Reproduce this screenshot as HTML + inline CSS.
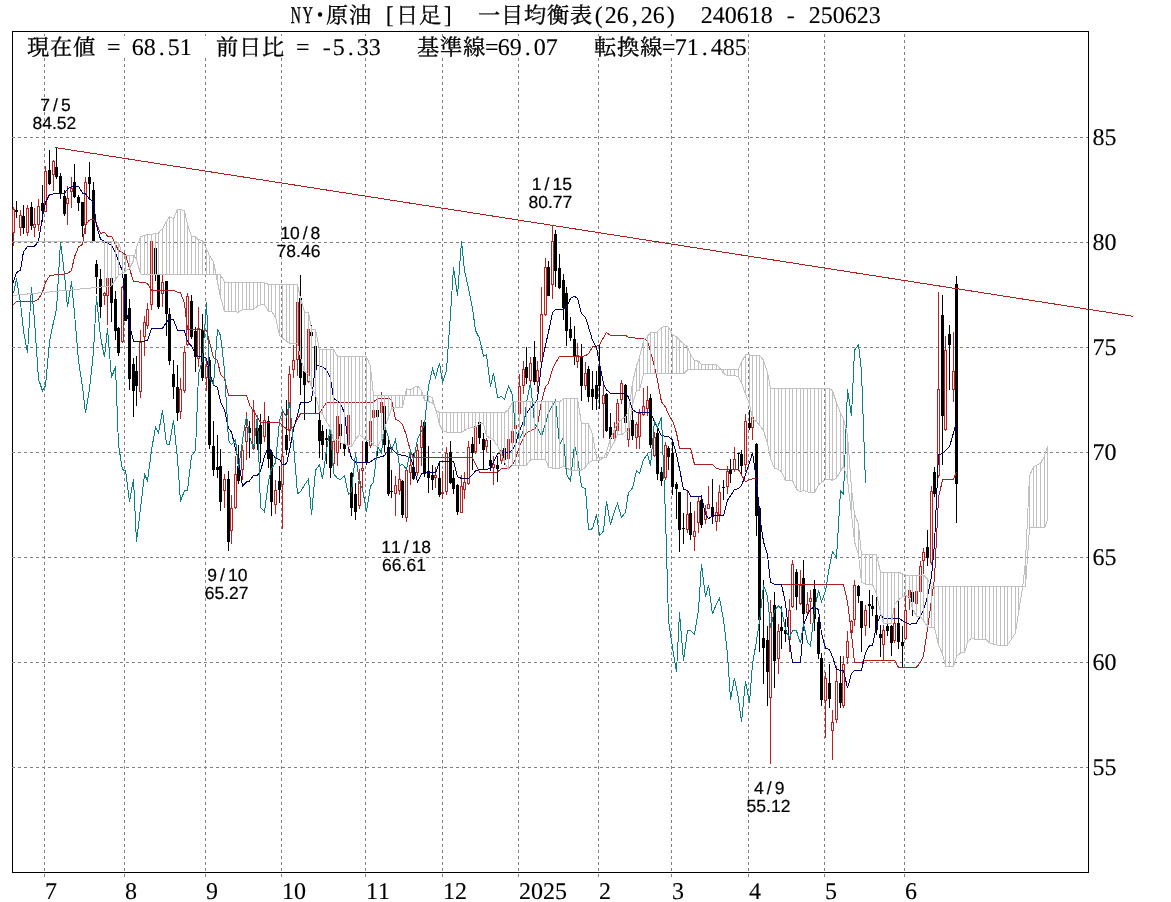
<!DOCTYPE html>
<html lang="ja">
<head>
<meta charset="utf-8">
<title>NY･原油 [日足] 一目均衡表(26,26)</title>
<style>
html,body{margin:0;padding:0;background:#fff;}
body{width:1171px;height:902px;overflow:hidden;}
svg{display:block;}
text{font-kerning:none;}
.m{font-family:"Liberation Serif","Noto Serif CJK SC",serif;}
.s{font-family:"Liberation Sans","Noto Sans CJK JP",sans-serif;}
</style>
</head>
<body>
<svg width="1171" height="902" viewBox="0 0 1171 902" shape-rendering="crispEdges">
<rect x="0" y="0" width="1171" height="902" fill="#fff"/>
<rect x="12.5" y="31.5" width="1076" height="841" fill="none" stroke="#000" stroke-width="1"/>
<g stroke="#808080" stroke-width="1" stroke-dasharray="3 3" fill="none">
<line x1="44.5" y1="34" x2="44.5" y2="877"/>
<line x1="124.5" y1="34" x2="124.5" y2="877"/>
<line x1="205.5" y1="34" x2="205.5" y2="877"/>
<line x1="281.5" y1="34" x2="281.5" y2="877"/>
<line x1="365.5" y1="34" x2="365.5" y2="877"/>
<line x1="442.5" y1="34" x2="442.5" y2="877"/>
<line x1="518.5" y1="34" x2="518.5" y2="877"/>
<line x1="598.5" y1="34" x2="598.5" y2="877"/>
<line x1="671.5" y1="34" x2="671.5" y2="877"/>
<line x1="748.5" y1="34" x2="748.5" y2="877"/>
<line x1="824.5" y1="34" x2="824.5" y2="877"/>
<line x1="904.5" y1="34" x2="904.5" y2="877"/>
<line x1="12" y1="137.5" x2="1088" y2="137.5"/>
<line x1="12" y1="242.5" x2="1088" y2="242.5"/>
<line x1="12" y1="347.5" x2="1088" y2="347.5"/>
<line x1="12" y1="452.5" x2="1088" y2="452.5"/>
<line x1="12" y1="557.5" x2="1088" y2="557.5"/>
<line x1="12" y1="662.5" x2="1088" y2="662.5"/>
<line x1="12" y1="767.5" x2="1088" y2="767.5"/>
</g>
<g>
<rect x="13" y="207" width="1" height="39" fill="#c02020"/>
<rect x="12.5" y="209.5" width="2" height="23" fill="#fff" stroke="#c02020" stroke-width="1"/>
<rect x="16" y="201" width="1" height="17" fill="#000"/>
<rect x="15" y="210" width="3" height="2" fill="#000"/>
<rect x="20" y="210" width="1" height="26" fill="#c02020"/>
<rect x="19.5" y="215.5" width="2" height="12" fill="#fff" stroke="#c02020" stroke-width="1"/>
<rect x="23" y="205" width="1" height="29" fill="#000"/>
<rect x="22" y="216" width="3" height="12" fill="#000"/>
<rect x="27" y="205" width="1" height="31" fill="#c02020"/>
<rect x="26.5" y="208.5" width="2" height="24" fill="#fff" stroke="#c02020" stroke-width="1"/>
<rect x="31" y="202" width="1" height="28" fill="#000"/>
<rect x="30" y="207" width="3" height="19" fill="#000"/>
<rect x="34" y="208" width="1" height="29" fill="#c02020"/>
<rect x="33.5" y="224.5" width="2" height="3" fill="#fff" stroke="#c02020" stroke-width="1"/>
<rect x="38" y="199" width="1" height="32" fill="#c02020"/>
<rect x="37.5" y="206.5" width="2" height="18" fill="#fff" stroke="#c02020" stroke-width="1"/>
<rect x="42" y="185" width="1" height="37" fill="#000"/>
<rect x="41" y="203" width="3" height="8" fill="#000"/>
<rect x="45" y="166" width="1" height="46" fill="#c02020"/>
<rect x="44.5" y="171.5" width="2" height="40" fill="#fff" stroke="#c02020" stroke-width="1"/>
<rect x="49" y="150" width="1" height="35" fill="#000"/>
<rect x="48" y="170" width="3" height="14" fill="#000"/>
<rect x="53" y="160" width="1" height="31" fill="#c02020"/>
<rect x="52.5" y="161.5" width="2" height="13" fill="#fff" stroke="#c02020" stroke-width="1"/>
<rect x="56" y="148" width="1" height="31" fill="#000"/>
<rect x="55" y="167" width="3" height="10" fill="#000"/>
<rect x="60" y="173" width="1" height="26" fill="#000"/>
<rect x="59" y="176" width="3" height="17" fill="#000"/>
<rect x="64" y="190" width="1" height="26" fill="#000"/>
<rect x="63" y="196" width="3" height="18" fill="#000"/>
<rect x="67" y="186" width="1" height="39" fill="#c02020"/>
<rect x="66.5" y="198.5" width="2" height="5" fill="#fff" stroke="#c02020" stroke-width="1"/>
<rect x="71" y="177" width="1" height="31" fill="#c02020"/>
<rect x="70.5" y="188.5" width="2" height="3" fill="#fff" stroke="#c02020" stroke-width="1"/>
<rect x="74" y="164" width="1" height="34" fill="#000"/>
<rect x="73" y="182" width="3" height="15" fill="#000"/>
<rect x="78" y="195" width="1" height="16" fill="#000"/>
<rect x="77" y="197" width="3" height="6" fill="#000"/>
<rect x="82" y="202" width="1" height="35" fill="#000"/>
<rect x="81" y="202" width="3" height="24" fill="#000"/>
<rect x="85" y="177" width="1" height="57" fill="#c02020"/>
<rect x="84.5" y="182.5" width="2" height="42" fill="#fff" stroke="#c02020" stroke-width="1"/>
<rect x="89" y="162" width="1" height="37" fill="#000"/>
<rect x="88" y="177" width="3" height="7" fill="#000"/>
<rect x="93" y="182" width="1" height="59" fill="#000"/>
<rect x="92" y="190" width="3" height="51" fill="#000"/>
<rect x="96" y="260" width="1" height="34" fill="#000"/>
<rect x="95" y="264" width="3" height="13" fill="#000"/>
<rect x="100" y="269" width="1" height="49" fill="#000"/>
<rect x="99" y="279" width="3" height="28" fill="#000"/>
<rect x="104" y="292" width="1" height="13" fill="#c02020"/>
<rect x="103.5" y="293.5" width="2" height="2" fill="#fff" stroke="#c02020" stroke-width="1"/>
<rect x="107" y="278" width="1" height="47" fill="#c02020"/>
<rect x="106.5" y="278.5" width="2" height="17" fill="#fff" stroke="#c02020" stroke-width="1"/>
<rect x="111" y="277" width="1" height="45" fill="#000"/>
<rect x="110" y="278" width="3" height="25" fill="#000"/>
<rect x="115" y="291" width="1" height="49" fill="#000"/>
<rect x="114" y="299" width="3" height="32" fill="#000"/>
<rect x="118" y="327" width="1" height="29" fill="#000"/>
<rect x="117" y="328" width="3" height="25" fill="#000"/>
<rect x="122" y="286" width="1" height="57" fill="#c02020"/>
<rect x="121.5" y="287.5" width="2" height="54" fill="#fff" stroke="#c02020" stroke-width="1"/>
<rect x="125" y="274" width="1" height="47" fill="#000"/>
<rect x="124" y="274" width="3" height="47" fill="#000"/>
<rect x="129" y="299" width="1" height="91" fill="#000"/>
<rect x="128" y="308" width="3" height="71" fill="#000"/>
<rect x="133" y="358" width="1" height="59" fill="#000"/>
<rect x="132" y="364" width="3" height="27" fill="#000"/>
<rect x="136" y="356" width="1" height="50" fill="#000"/>
<rect x="135" y="371" width="3" height="15" fill="#000"/>
<rect x="140" y="330" width="1" height="68" fill="#c02020"/>
<rect x="139.5" y="342.5" width="2" height="49" fill="#fff" stroke="#c02020" stroke-width="1"/>
<rect x="144" y="316" width="1" height="40" fill="#c02020"/>
<rect x="143.5" y="322.5" width="2" height="14" fill="#fff" stroke="#c02020" stroke-width="1"/>
<rect x="147" y="303" width="1" height="26" fill="#c02020"/>
<rect x="146.5" y="309.5" width="2" height="16" fill="#fff" stroke="#c02020" stroke-width="1"/>
<rect x="151" y="241" width="1" height="69" fill="#c02020"/>
<rect x="150.5" y="241.5" width="2" height="63" fill="#fff" stroke="#c02020" stroke-width="1"/>
<rect x="155" y="245" width="1" height="36" fill="#000"/>
<rect x="154" y="248" width="3" height="26" fill="#000"/>
<rect x="158" y="269" width="1" height="40" fill="#000"/>
<rect x="157" y="275" width="3" height="32" fill="#000"/>
<rect x="162" y="275" width="1" height="32" fill="#c02020"/>
<rect x="161.5" y="282.5" width="2" height="11" fill="#fff" stroke="#c02020" stroke-width="1"/>
<rect x="166" y="281" width="1" height="55" fill="#000"/>
<rect x="165" y="281" width="3" height="33" fill="#000"/>
<rect x="169" y="308" width="1" height="57" fill="#000"/>
<rect x="168" y="314" width="3" height="47" fill="#000"/>
<rect x="173" y="360" width="1" height="39" fill="#000"/>
<rect x="172" y="374" width="3" height="13" fill="#000"/>
<rect x="177" y="365" width="1" height="56" fill="#000"/>
<rect x="176" y="387" width="3" height="26" fill="#000"/>
<rect x="180" y="378" width="1" height="41" fill="#c02020"/>
<rect x="179.5" y="389.5" width="2" height="22" fill="#fff" stroke="#c02020" stroke-width="1"/>
<rect x="184" y="346" width="1" height="47" fill="#c02020"/>
<rect x="183.5" y="352.5" width="2" height="38" fill="#fff" stroke="#c02020" stroke-width="1"/>
<rect x="187" y="293" width="1" height="53" fill="#c02020"/>
<rect x="186.5" y="296.5" width="2" height="48" fill="#fff" stroke="#c02020" stroke-width="1"/>
<rect x="191" y="295" width="1" height="44" fill="#000"/>
<rect x="190" y="301" width="3" height="36" fill="#000"/>
<rect x="195" y="327" width="1" height="45" fill="#000"/>
<rect x="194" y="331" width="3" height="26" fill="#000"/>
<rect x="198" y="307" width="1" height="60" fill="#c02020"/>
<rect x="197.5" y="328.5" width="2" height="30" fill="#fff" stroke="#c02020" stroke-width="1"/>
<rect x="202" y="314" width="1" height="67" fill="#000"/>
<rect x="201" y="330" width="3" height="48" fill="#000"/>
<rect x="206" y="361" width="1" height="30" fill="#c02020"/>
<rect x="205.5" y="366.5" width="2" height="11" fill="#fff" stroke="#c02020" stroke-width="1"/>
<rect x="209" y="357" width="1" height="92" fill="#000"/>
<rect x="208" y="360" width="3" height="85" fill="#000"/>
<rect x="213" y="421" width="1" height="55" fill="#000"/>
<rect x="212" y="446" width="3" height="24" fill="#000"/>
<rect x="217" y="435" width="1" height="43" fill="#000"/>
<rect x="216" y="467" width="3" height="3" fill="#000"/>
<rect x="220" y="449" width="1" height="62" fill="#000"/>
<rect x="219" y="466" width="3" height="36" fill="#000"/>
<rect x="224" y="474" width="1" height="34" fill="#c02020"/>
<rect x="223.5" y="479.5" width="2" height="11" fill="#fff" stroke="#c02020" stroke-width="1"/>
<rect x="228" y="471" width="1" height="80" fill="#000"/>
<rect x="227" y="479" width="3" height="63" fill="#000"/>
<rect x="231" y="495" width="1" height="49" fill="#c02020"/>
<rect x="230.5" y="508.5" width="2" height="22" fill="#fff" stroke="#c02020" stroke-width="1"/>
<rect x="235" y="456" width="1" height="53" fill="#c02020"/>
<rect x="234.5" y="474.5" width="2" height="33" fill="#fff" stroke="#c02020" stroke-width="1"/>
<rect x="238" y="445" width="1" height="39" fill="#000"/>
<rect x="237" y="466" width="3" height="15" fill="#000"/>
<rect x="242" y="445" width="1" height="35" fill="#c02020"/>
<rect x="241.5" y="450.5" width="2" height="19" fill="#fff" stroke="#c02020" stroke-width="1"/>
<rect x="246" y="412" width="1" height="48" fill="#c02020"/>
<rect x="245.5" y="427.5" width="2" height="14" fill="#fff" stroke="#c02020" stroke-width="1"/>
<rect x="249" y="421" width="1" height="37" fill="#000"/>
<rect x="248" y="428" width="3" height="5" fill="#000"/>
<rect x="253" y="400" width="1" height="50" fill="#c02020"/>
<rect x="252.5" y="410.5" width="2" height="38" fill="#fff" stroke="#c02020" stroke-width="1"/>
<rect x="257" y="425" width="1" height="25" fill="#000"/>
<rect x="256" y="428" width="3" height="16" fill="#000"/>
<rect x="260" y="414" width="1" height="49" fill="#000"/>
<rect x="259" y="425" width="3" height="19" fill="#000"/>
<rect x="264" y="402" width="1" height="40" fill="#c02020"/>
<rect x="263.5" y="420.5" width="2" height="16" fill="#fff" stroke="#c02020" stroke-width="1"/>
<rect x="268" y="416" width="1" height="52" fill="#000"/>
<rect x="267" y="421" width="3" height="38" fill="#000"/>
<rect x="271" y="450" width="1" height="66" fill="#000"/>
<rect x="270" y="452" width="3" height="50" fill="#000"/>
<rect x="275" y="480" width="1" height="34" fill="#c02020"/>
<rect x="274.5" y="490.5" width="2" height="14" fill="#fff" stroke="#c02020" stroke-width="1"/>
<rect x="279" y="466" width="1" height="37" fill="#000"/>
<rect x="278" y="481" width="3" height="9" fill="#000"/>
<rect x="282" y="412" width="1" height="117" fill="#c02020"/>
<rect x="281.5" y="456.5" width="2" height="28" fill="#fff" stroke="#c02020" stroke-width="1"/>
<rect x="286" y="400" width="1" height="55" fill="#000"/>
<rect x="285" y="435" width="3" height="15" fill="#000"/>
<rect x="289" y="366" width="1" height="75" fill="#c02020"/>
<rect x="288.5" y="374.5" width="2" height="56" fill="#fff" stroke="#c02020" stroke-width="1"/>
<rect x="293" y="345" width="1" height="33" fill="#c02020"/>
<rect x="292.5" y="360.5" width="2" height="9" fill="#fff" stroke="#c02020" stroke-width="1"/>
<rect x="297" y="300" width="1" height="76" fill="#c02020"/>
<rect x="296.5" y="302.5" width="2" height="57" fill="#fff" stroke="#c02020" stroke-width="1"/>
<rect x="300" y="275" width="1" height="120" fill="#000"/>
<rect x="299" y="298" width="3" height="80" fill="#000"/>
<rect x="304" y="371" width="1" height="49" fill="#000"/>
<rect x="303" y="371" width="3" height="14" fill="#000"/>
<rect x="308" y="328" width="1" height="55" fill="#c02020"/>
<rect x="307.5" y="329.5" width="2" height="52" fill="#fff" stroke="#c02020" stroke-width="1"/>
<rect x="311" y="325" width="1" height="25" fill="#000"/>
<rect x="310" y="332" width="3" height="4" fill="#000"/>
<rect x="315" y="345" width="1" height="68" fill="#000"/>
<rect x="314" y="346" width="3" height="24" fill="#000"/>
<rect x="319" y="413" width="1" height="45" fill="#000"/>
<rect x="318" y="420" width="3" height="21" fill="#000"/>
<rect x="322" y="425" width="1" height="35" fill="#000"/>
<rect x="321" y="431" width="3" height="14" fill="#000"/>
<rect x="326" y="429" width="1" height="35" fill="#000"/>
<rect x="325" y="438" width="3" height="2" fill="#000"/>
<rect x="330" y="426" width="1" height="52" fill="#000"/>
<rect x="329" y="436" width="3" height="32" fill="#000"/>
<rect x="333" y="439" width="1" height="27" fill="#c02020"/>
<rect x="332.5" y="441.5" width="2" height="22" fill="#fff" stroke="#c02020" stroke-width="1"/>
<rect x="337" y="415" width="1" height="51" fill="#c02020"/>
<rect x="336.5" y="416.5" width="2" height="36" fill="#fff" stroke="#c02020" stroke-width="1"/>
<rect x="340" y="423" width="1" height="26" fill="#000"/>
<rect x="339" y="424" width="3" height="12" fill="#000"/>
<rect x="344" y="430" width="1" height="26" fill="#000"/>
<rect x="343" y="444" width="3" height="5" fill="#000"/>
<rect x="348" y="414" width="1" height="38" fill="#c02020"/>
<rect x="347.5" y="415.5" width="2" height="29" fill="#fff" stroke="#c02020" stroke-width="1"/>
<rect x="351" y="472" width="1" height="44" fill="#000"/>
<rect x="350" y="473" width="3" height="35" fill="#000"/>
<rect x="355" y="483" width="1" height="37" fill="#000"/>
<rect x="354" y="494" width="3" height="18" fill="#000"/>
<rect x="359" y="469" width="1" height="40" fill="#c02020"/>
<rect x="358.5" y="481.5" width="2" height="24" fill="#fff" stroke="#c02020" stroke-width="1"/>
<rect x="362" y="441" width="1" height="47" fill="#c02020"/>
<rect x="361.5" y="468.5" width="2" height="2" fill="#fff" stroke="#c02020" stroke-width="1"/>
<rect x="366" y="441" width="1" height="24" fill="#000"/>
<rect x="365" y="442" width="3" height="21" fill="#000"/>
<rect x="370" y="420" width="1" height="28" fill="#c02020"/>
<rect x="369.5" y="421.5" width="2" height="24" fill="#fff" stroke="#c02020" stroke-width="1"/>
<rect x="373" y="408" width="1" height="12" fill="#c02020"/>
<rect x="372.5" y="410.5" width="2" height="7" fill="#fff" stroke="#c02020" stroke-width="1"/>
<rect x="377" y="409" width="1" height="47" fill="#000"/>
<rect x="376" y="410" width="3" height="7" fill="#000"/>
<rect x="381" y="392" width="1" height="28" fill="#c02020"/>
<rect x="380.5" y="402.5" width="2" height="10" fill="#fff" stroke="#c02020" stroke-width="1"/>
<rect x="384" y="404" width="1" height="48" fill="#000"/>
<rect x="383" y="406" width="3" height="39" fill="#000"/>
<rect x="388" y="440" width="1" height="56" fill="#000"/>
<rect x="387" y="447" width="3" height="47" fill="#000"/>
<rect x="391" y="470" width="1" height="28" fill="#000"/>
<rect x="390" y="491" width="3" height="1" fill="#000"/>
<rect x="395" y="476" width="1" height="40" fill="#c02020"/>
<rect x="394.5" y="485.5" width="2" height="8" fill="#fff" stroke="#c02020" stroke-width="1"/>
<rect x="399" y="466" width="1" height="29" fill="#c02020"/>
<rect x="398.5" y="479.5" width="2" height="11" fill="#fff" stroke="#c02020" stroke-width="1"/>
<rect x="402" y="480" width="1" height="38" fill="#000"/>
<rect x="401" y="481" width="3" height="34" fill="#000"/>
<rect x="406" y="470" width="1" height="52" fill="#c02020"/>
<rect x="405.5" y="470.5" width="2" height="47" fill="#fff" stroke="#c02020" stroke-width="1"/>
<rect x="410" y="451" width="1" height="34" fill="#c02020"/>
<rect x="409.5" y="465.5" width="2" height="7" fill="#fff" stroke="#c02020" stroke-width="1"/>
<rect x="413" y="453" width="1" height="27" fill="#000"/>
<rect x="412" y="467" width="3" height="12" fill="#000"/>
<rect x="417" y="444" width="1" height="32" fill="#c02020"/>
<rect x="416.5" y="450.5" width="2" height="22" fill="#fff" stroke="#c02020" stroke-width="1"/>
<rect x="421" y="420" width="1" height="46" fill="#c02020"/>
<rect x="420.5" y="426.5" width="2" height="21" fill="#fff" stroke="#c02020" stroke-width="1"/>
<rect x="424" y="421" width="1" height="56" fill="#000"/>
<rect x="423" y="422" width="3" height="52" fill="#000"/>
<rect x="428" y="446" width="1" height="47" fill="#000"/>
<rect x="427" y="471" width="3" height="7" fill="#000"/>
<rect x="432" y="465" width="1" height="25" fill="#000"/>
<rect x="431" y="475" width="3" height="5" fill="#000"/>
<rect x="435" y="467" width="1" height="21" fill="#c02020"/>
<rect x="434.5" y="475.5" width="2" height="2" fill="#fff" stroke="#c02020" stroke-width="1"/>
<rect x="439" y="461" width="1" height="36" fill="#000"/>
<rect x="438" y="478" width="3" height="17" fill="#000"/>
<rect x="442" y="471" width="1" height="28" fill="#c02020"/>
<rect x="441.5" y="492.5" width="2" height="1" fill="#fff" stroke="#c02020" stroke-width="1"/>
<rect x="446" y="447" width="1" height="48" fill="#c02020"/>
<rect x="445.5" y="453.5" width="2" height="38" fill="#fff" stroke="#c02020" stroke-width="1"/>
<rect x="450" y="441" width="1" height="43" fill="#000"/>
<rect x="449" y="452" width="3" height="31" fill="#000"/>
<rect x="453" y="470" width="1" height="24" fill="#000"/>
<rect x="452" y="478" width="3" height="11" fill="#000"/>
<rect x="457" y="484" width="1" height="31" fill="#000"/>
<rect x="456" y="485" width="3" height="27" fill="#000"/>
<rect x="461" y="475" width="1" height="38" fill="#c02020"/>
<rect x="460.5" y="486.5" width="2" height="26" fill="#fff" stroke="#c02020" stroke-width="1"/>
<rect x="464" y="472" width="1" height="27" fill="#c02020"/>
<rect x="463.5" y="482.5" width="2" height="7" fill="#fff" stroke="#c02020" stroke-width="1"/>
<rect x="468" y="441" width="1" height="44" fill="#c02020"/>
<rect x="467.5" y="447.5" width="2" height="36" fill="#fff" stroke="#c02020" stroke-width="1"/>
<rect x="472" y="437" width="1" height="33" fill="#000"/>
<rect x="471" y="444" width="3" height="9" fill="#000"/>
<rect x="475" y="424" width="1" height="30" fill="#c02020"/>
<rect x="474.5" y="426.5" width="2" height="25" fill="#fff" stroke="#c02020" stroke-width="1"/>
<rect x="479" y="422" width="1" height="22" fill="#000"/>
<rect x="478" y="422" width="3" height="16" fill="#000"/>
<rect x="483" y="433" width="1" height="37" fill="#000"/>
<rect x="482" y="439" width="3" height="11" fill="#000"/>
<rect x="486" y="438" width="1" height="14" fill="#c02020"/>
<rect x="485.5" y="440.5" width="2" height="6" fill="#fff" stroke="#c02020" stroke-width="1"/>
<rect x="490" y="440" width="1" height="31" fill="#000"/>
<rect x="489" y="460" width="3" height="6" fill="#000"/>
<rect x="493" y="456" width="1" height="29" fill="#c02020"/>
<rect x="492.5" y="464.5" width="2" height="3" fill="#fff" stroke="#c02020" stroke-width="1"/>
<rect x="497" y="456" width="1" height="26" fill="#000"/>
<rect x="496" y="465" width="3" height="4" fill="#000"/>
<rect x="501" y="450" width="1" height="14" fill="#c02020"/>
<rect x="500.5" y="450.5" width="2" height="10" fill="#fff" stroke="#c02020" stroke-width="1"/>
<rect x="504" y="448" width="1" height="17" fill="#000"/>
<rect x="503" y="448" width="3" height="12" fill="#000"/>
<rect x="508" y="438" width="1" height="22" fill="#c02020"/>
<rect x="507.5" y="439.5" width="2" height="19" fill="#fff" stroke="#c02020" stroke-width="1"/>
<rect x="512" y="430" width="1" height="14" fill="#c02020"/>
<rect x="511.5" y="431.5" width="2" height="11" fill="#fff" stroke="#c02020" stroke-width="1"/>
<rect x="515" y="416" width="1" height="14" fill="#c02020"/>
<rect x="514.5" y="425.5" width="2" height="3" fill="#fff" stroke="#c02020" stroke-width="1"/>
<rect x="519" y="374" width="1" height="41" fill="#c02020"/>
<rect x="518.5" y="386.5" width="2" height="27" fill="#fff" stroke="#c02020" stroke-width="1"/>
<rect x="523" y="361" width="1" height="33" fill="#c02020"/>
<rect x="522.5" y="369.5" width="2" height="16" fill="#fff" stroke="#c02020" stroke-width="1"/>
<rect x="526" y="347" width="1" height="37" fill="#000"/>
<rect x="525" y="367" width="3" height="11" fill="#000"/>
<rect x="530" y="357" width="1" height="26" fill="#c02020"/>
<rect x="529.5" y="363.5" width="2" height="17" fill="#fff" stroke="#c02020" stroke-width="1"/>
<rect x="534" y="341" width="1" height="44" fill="#000"/>
<rect x="533" y="357" width="3" height="25" fill="#000"/>
<rect x="537" y="361" width="1" height="31" fill="#c02020"/>
<rect x="536.5" y="370.5" width="2" height="11" fill="#fff" stroke="#c02020" stroke-width="1"/>
<rect x="541" y="287" width="1" height="79" fill="#c02020"/>
<rect x="540.5" y="314.5" width="2" height="47" fill="#fff" stroke="#c02020" stroke-width="1"/>
<rect x="545" y="258" width="1" height="58" fill="#c02020"/>
<rect x="544.5" y="267.5" width="2" height="47" fill="#fff" stroke="#c02020" stroke-width="1"/>
<rect x="548" y="261" width="1" height="35" fill="#000"/>
<rect x="547" y="267" width="3" height="29" fill="#000"/>
<rect x="552" y="225" width="1" height="74" fill="#c02020"/>
<rect x="551.5" y="241.5" width="2" height="43" fill="#fff" stroke="#c02020" stroke-width="1"/>
<rect x="555" y="230" width="1" height="57" fill="#000"/>
<rect x="554" y="234" width="3" height="37" fill="#000"/>
<rect x="559" y="254" width="1" height="35" fill="#000"/>
<rect x="558" y="268" width="3" height="20" fill="#000"/>
<rect x="563" y="274" width="1" height="46" fill="#000"/>
<rect x="562" y="280" width="3" height="28" fill="#000"/>
<rect x="566" y="287" width="1" height="59" fill="#000"/>
<rect x="565" y="293" width="3" height="38" fill="#000"/>
<rect x="570" y="317" width="1" height="24" fill="#000"/>
<rect x="569" y="329" width="3" height="9" fill="#000"/>
<rect x="574" y="326" width="1" height="39" fill="#000"/>
<rect x="573" y="339" width="3" height="17" fill="#000"/>
<rect x="577" y="343" width="1" height="25" fill="#c02020"/>
<rect x="576.5" y="355.5" width="2" height="6" fill="#fff" stroke="#c02020" stroke-width="1"/>
<rect x="581" y="344" width="1" height="57" fill="#000"/>
<rect x="580" y="356" width="3" height="30" fill="#000"/>
<rect x="585" y="362" width="1" height="28" fill="#c02020"/>
<rect x="584.5" y="373.5" width="2" height="12" fill="#fff" stroke="#c02020" stroke-width="1"/>
<rect x="588" y="366" width="1" height="36" fill="#000"/>
<rect x="587" y="369" width="3" height="28" fill="#000"/>
<rect x="592" y="371" width="1" height="39" fill="#000"/>
<rect x="591" y="389" width="3" height="8" fill="#000"/>
<rect x="596" y="371" width="1" height="39" fill="#000"/>
<rect x="595" y="385" width="3" height="14" fill="#000"/>
<rect x="599" y="345" width="1" height="64" fill="#000"/>
<rect x="598" y="366" width="3" height="20" fill="#000"/>
<rect x="603" y="383" width="1" height="55" fill="#c02020"/>
<rect x="602.5" y="395.5" width="2" height="8" fill="#fff" stroke="#c02020" stroke-width="1"/>
<rect x="606" y="393" width="1" height="39" fill="#000"/>
<rect x="605" y="394" width="3" height="37" fill="#000"/>
<rect x="610" y="413" width="1" height="27" fill="#000"/>
<rect x="609" y="427" width="3" height="12" fill="#000"/>
<rect x="614" y="422" width="1" height="18" fill="#c02020"/>
<rect x="613.5" y="430.5" width="2" height="8" fill="#fff" stroke="#c02020" stroke-width="1"/>
<rect x="617" y="399" width="1" height="33" fill="#c02020"/>
<rect x="616.5" y="403.5" width="2" height="27" fill="#fff" stroke="#c02020" stroke-width="1"/>
<rect x="621" y="380" width="1" height="24" fill="#c02020"/>
<rect x="620.5" y="383.5" width="2" height="16" fill="#fff" stroke="#c02020" stroke-width="1"/>
<rect x="625" y="384" width="1" height="40" fill="#000"/>
<rect x="624" y="385" width="3" height="38" fill="#000"/>
<rect x="628" y="420" width="1" height="27" fill="#c02020"/>
<rect x="627.5" y="428.5" width="2" height="11" fill="#fff" stroke="#c02020" stroke-width="1"/>
<rect x="632" y="411" width="1" height="29" fill="#000"/>
<rect x="631" y="420" width="3" height="16" fill="#000"/>
<rect x="636" y="422" width="1" height="27" fill="#c02020"/>
<rect x="635.5" y="424.5" width="2" height="13" fill="#fff" stroke="#c02020" stroke-width="1"/>
<rect x="639" y="409" width="1" height="40" fill="#c02020"/>
<rect x="638.5" y="413.5" width="2" height="23" fill="#fff" stroke="#c02020" stroke-width="1"/>
<rect x="643" y="388" width="1" height="28" fill="#c02020"/>
<rect x="642.5" y="406.5" width="2" height="8" fill="#fff" stroke="#c02020" stroke-width="1"/>
<rect x="647" y="386" width="1" height="30" fill="#c02020"/>
<rect x="646.5" y="400.5" width="2" height="8" fill="#fff" stroke="#c02020" stroke-width="1"/>
<rect x="650" y="394" width="1" height="54" fill="#000"/>
<rect x="649" y="398" width="3" height="47" fill="#000"/>
<rect x="654" y="432" width="1" height="25" fill="#c02020"/>
<rect x="653.5" y="437.5" width="2" height="18" fill="#fff" stroke="#c02020" stroke-width="1"/>
<rect x="657" y="427" width="1" height="53" fill="#000"/>
<rect x="656" y="433" width="3" height="41" fill="#000"/>
<rect x="661" y="467" width="1" height="19" fill="#000"/>
<rect x="660" y="472" width="3" height="9" fill="#000"/>
<rect x="665" y="442" width="1" height="38" fill="#c02020"/>
<rect x="664.5" y="445.5" width="2" height="32" fill="#fff" stroke="#c02020" stroke-width="1"/>
<rect x="668" y="446" width="1" height="24" fill="#000"/>
<rect x="667" y="448" width="3" height="9" fill="#000"/>
<rect x="672" y="440" width="1" height="55" fill="#000"/>
<rect x="671" y="453" width="3" height="34" fill="#000"/>
<rect x="676" y="482" width="1" height="37" fill="#000"/>
<rect x="675" y="484" width="3" height="5" fill="#000"/>
<rect x="679" y="492" width="1" height="60" fill="#000"/>
<rect x="678" y="492" width="3" height="38" fill="#000"/>
<rect x="683" y="513" width="1" height="31" fill="#000"/>
<rect x="682" y="528" width="3" height="1" fill="#000"/>
<rect x="687" y="491" width="1" height="42" fill="#c02020"/>
<rect x="686.5" y="514.5" width="2" height="15" fill="#fff" stroke="#c02020" stroke-width="1"/>
<rect x="690" y="502" width="1" height="38" fill="#000"/>
<rect x="689" y="513" width="3" height="22" fill="#000"/>
<rect x="694" y="511" width="1" height="40" fill="#c02020"/>
<rect x="693.5" y="531.5" width="2" height="5" fill="#fff" stroke="#c02020" stroke-width="1"/>
<rect x="698" y="497" width="1" height="36" fill="#c02020"/>
<rect x="697.5" y="501.5" width="2" height="21" fill="#fff" stroke="#c02020" stroke-width="1"/>
<rect x="701" y="495" width="1" height="33" fill="#000"/>
<rect x="700" y="500" width="3" height="25" fill="#000"/>
<rect x="705" y="505" width="1" height="19" fill="#c02020"/>
<rect x="704.5" y="511.5" width="2" height="8" fill="#fff" stroke="#c02020" stroke-width="1"/>
<rect x="708" y="486" width="1" height="23" fill="#c02020"/>
<rect x="707.5" y="504.5" width="2" height="4" fill="#fff" stroke="#c02020" stroke-width="1"/>
<rect x="712" y="479" width="1" height="45" fill="#000"/>
<rect x="711" y="507" width="3" height="10" fill="#000"/>
<rect x="716" y="502" width="1" height="29" fill="#c02020"/>
<rect x="715.5" y="512.5" width="2" height="9" fill="#fff" stroke="#c02020" stroke-width="1"/>
<rect x="719" y="485" width="1" height="37" fill="#c02020"/>
<rect x="718.5" y="492.5" width="2" height="22" fill="#fff" stroke="#c02020" stroke-width="1"/>
<rect x="723" y="480" width="1" height="20" fill="#000"/>
<rect x="722" y="487" width="3" height="1" fill="#000"/>
<rect x="727" y="466" width="1" height="28" fill="#c02020"/>
<rect x="726.5" y="471.5" width="2" height="15" fill="#fff" stroke="#c02020" stroke-width="1"/>
<rect x="730" y="459" width="1" height="24" fill="#000"/>
<rect x="729" y="470" width="3" height="4" fill="#000"/>
<rect x="734" y="447" width="1" height="25" fill="#c02020"/>
<rect x="733.5" y="459.5" width="2" height="10" fill="#fff" stroke="#c02020" stroke-width="1"/>
<rect x="738" y="453" width="1" height="17" fill="#000"/>
<rect x="737" y="453" width="3" height="1" fill="#000"/>
<rect x="741" y="450" width="1" height="24" fill="#000"/>
<rect x="740" y="454" width="3" height="12" fill="#000"/>
<rect x="745" y="414" width="1" height="58" fill="#c02020"/>
<rect x="744.5" y="421.5" width="2" height="43" fill="#fff" stroke="#c02020" stroke-width="1"/>
<rect x="749" y="410" width="1" height="20" fill="#000"/>
<rect x="748" y="423" width="3" height="5" fill="#000"/>
<rect x="752" y="416" width="1" height="24" fill="#c02020"/>
<rect x="751.5" y="417.5" width="2" height="10" fill="#fff" stroke="#c02020" stroke-width="1"/>
<rect x="756" y="443" width="1" height="93" fill="#000"/>
<rect x="755" y="444" width="3" height="72" fill="#000"/>
<rect x="759" y="506" width="1" height="146" fill="#000"/>
<rect x="758" y="508" width="3" height="112" fill="#000"/>
<rect x="763" y="580" width="1" height="104" fill="#000"/>
<rect x="762" y="638" width="3" height="10" fill="#000"/>
<rect x="767" y="626" width="1" height="80" fill="#000"/>
<rect x="766" y="640" width="3" height="32" fill="#000"/>
<rect x="770" y="600" width="1" height="164" fill="#c02020"/>
<rect x="769.5" y="612.5" width="2" height="85" fill="#fff" stroke="#c02020" stroke-width="1"/>
<rect x="774" y="592" width="1" height="96" fill="#000"/>
<rect x="773" y="605" width="3" height="56" fill="#000"/>
<rect x="778" y="624" width="1" height="50" fill="#c02020"/>
<rect x="777.5" y="631.5" width="2" height="27" fill="#fff" stroke="#c02020" stroke-width="1"/>
<rect x="781" y="606" width="1" height="43" fill="#000"/>
<rect x="780" y="627" width="3" height="4" fill="#000"/>
<rect x="785" y="619" width="1" height="23" fill="#000"/>
<rect x="784" y="630" width="3" height="4" fill="#000"/>
<rect x="789" y="599" width="1" height="53" fill="#c02020"/>
<rect x="788.5" y="610.5" width="2" height="29" fill="#fff" stroke="#c02020" stroke-width="1"/>
<rect x="792" y="560" width="1" height="48" fill="#c02020"/>
<rect x="791.5" y="564.5" width="2" height="42" fill="#fff" stroke="#c02020" stroke-width="1"/>
<rect x="796" y="569" width="1" height="41" fill="#000"/>
<rect x="795" y="572" width="3" height="25" fill="#000"/>
<rect x="800" y="570" width="1" height="35" fill="#c02020"/>
<rect x="799.5" y="585.5" width="2" height="18" fill="#fff" stroke="#c02020" stroke-width="1"/>
<rect x="803" y="560" width="1" height="71" fill="#000"/>
<rect x="802" y="578" width="3" height="36" fill="#000"/>
<rect x="807" y="592" width="1" height="22" fill="#c02020"/>
<rect x="806.5" y="604.5" width="2" height="8" fill="#fff" stroke="#c02020" stroke-width="1"/>
<rect x="810" y="590" width="1" height="34" fill="#c02020"/>
<rect x="809.5" y="598.5" width="2" height="3" fill="#fff" stroke="#c02020" stroke-width="1"/>
<rect x="814" y="580" width="1" height="51" fill="#000"/>
<rect x="813" y="589" width="3" height="30" fill="#000"/>
<rect x="818" y="617" width="1" height="42" fill="#000"/>
<rect x="817" y="622" width="3" height="32" fill="#000"/>
<rect x="821" y="653" width="1" height="53" fill="#000"/>
<rect x="820" y="658" width="3" height="42" fill="#000"/>
<rect x="825" y="672" width="1" height="66" fill="#c02020"/>
<rect x="824.5" y="678.5" width="2" height="22" fill="#fff" stroke="#c02020" stroke-width="1"/>
<rect x="829" y="664" width="1" height="44" fill="#000"/>
<rect x="828" y="683" width="3" height="16" fill="#000"/>
<rect x="832" y="710" width="1" height="50" fill="#c02020"/>
<rect x="831.5" y="722.5" width="2" height="8" fill="#fff" stroke="#c02020" stroke-width="1"/>
<rect x="836" y="666" width="1" height="57" fill="#c02020"/>
<rect x="835.5" y="681.5" width="2" height="38" fill="#fff" stroke="#c02020" stroke-width="1"/>
<rect x="840" y="656" width="1" height="52" fill="#000"/>
<rect x="839" y="683" width="3" height="20" fill="#000"/>
<rect x="843" y="656" width="1" height="52" fill="#c02020"/>
<rect x="842.5" y="664.5" width="2" height="41" fill="#fff" stroke="#c02020" stroke-width="1"/>
<rect x="847" y="631" width="1" height="33" fill="#c02020"/>
<rect x="846.5" y="641.5" width="2" height="16" fill="#fff" stroke="#c02020" stroke-width="1"/>
<rect x="851" y="620" width="1" height="16" fill="#c02020"/>
<rect x="850.5" y="621.5" width="2" height="11" fill="#fff" stroke="#c02020" stroke-width="1"/>
<rect x="854" y="580" width="1" height="46" fill="#c02020"/>
<rect x="853.5" y="585.5" width="2" height="34" fill="#fff" stroke="#c02020" stroke-width="1"/>
<rect x="858" y="585" width="1" height="18" fill="#000"/>
<rect x="857" y="586" width="3" height="10" fill="#000"/>
<rect x="861" y="601" width="1" height="51" fill="#000"/>
<rect x="860" y="601" width="3" height="27" fill="#000"/>
<rect x="865" y="605" width="1" height="31" fill="#c02020"/>
<rect x="864.5" y="610.5" width="2" height="15" fill="#fff" stroke="#c02020" stroke-width="1"/>
<rect x="869" y="590" width="1" height="38" fill="#000"/>
<rect x="868" y="604" width="3" height="2" fill="#000"/>
<rect x="872" y="595" width="1" height="21" fill="#000"/>
<rect x="871" y="606" width="3" height="3" fill="#000"/>
<rect x="876" y="597" width="1" height="38" fill="#000"/>
<rect x="875" y="615" width="3" height="15" fill="#000"/>
<rect x="880" y="625" width="1" height="32" fill="#000"/>
<rect x="879" y="634" width="3" height="4" fill="#000"/>
<rect x="883" y="625" width="1" height="35" fill="#c02020"/>
<rect x="882.5" y="630.5" width="2" height="14" fill="#fff" stroke="#c02020" stroke-width="1"/>
<rect x="887" y="624" width="1" height="12" fill="#000"/>
<rect x="886" y="626" width="3" height="5" fill="#000"/>
<rect x="891" y="625" width="1" height="31" fill="#000"/>
<rect x="890" y="626" width="3" height="17" fill="#000"/>
<rect x="894" y="608" width="1" height="35" fill="#c02020"/>
<rect x="893.5" y="623.5" width="2" height="17" fill="#fff" stroke="#c02020" stroke-width="1"/>
<rect x="898" y="601" width="1" height="48" fill="#000"/>
<rect x="897" y="623" width="3" height="19" fill="#000"/>
<rect x="902" y="626" width="1" height="41" fill="#000"/>
<rect x="901" y="642" width="3" height="4" fill="#000"/>
<rect x="905" y="595" width="1" height="45" fill="#c02020"/>
<rect x="904.5" y="610.5" width="2" height="28" fill="#fff" stroke="#c02020" stroke-width="1"/>
<rect x="909" y="588" width="1" height="22" fill="#c02020"/>
<rect x="908.5" y="590.5" width="2" height="7" fill="#fff" stroke="#c02020" stroke-width="1"/>
<rect x="912" y="589" width="1" height="27" fill="#000"/>
<rect x="911" y="592" width="3" height="10" fill="#000"/>
<rect x="916" y="590" width="1" height="15" fill="#c02020"/>
<rect x="915.5" y="591.5" width="2" height="12" fill="#fff" stroke="#c02020" stroke-width="1"/>
<rect x="920" y="561" width="1" height="32" fill="#c02020"/>
<rect x="919.5" y="566.5" width="2" height="25" fill="#fff" stroke="#c02020" stroke-width="1"/>
<rect x="923" y="548" width="1" height="26" fill="#c02020"/>
<rect x="922.5" y="552.5" width="2" height="8" fill="#fff" stroke="#c02020" stroke-width="1"/>
<rect x="927" y="530" width="1" height="36" fill="#000"/>
<rect x="926" y="547" width="3" height="11" fill="#000"/>
<rect x="931" y="486" width="1" height="79" fill="#c02020"/>
<rect x="930.5" y="491.5" width="2" height="71" fill="#fff" stroke="#c02020" stroke-width="1"/>
<rect x="934" y="467" width="1" height="30" fill="#000"/>
<rect x="933" y="472" width="3" height="22" fill="#000"/>
<rect x="938" y="292" width="1" height="186" fill="#c02020"/>
<rect x="937.5" y="389.5" width="2" height="86" fill="#fff" stroke="#c02020" stroke-width="1"/>
<rect x="942" y="295" width="1" height="170" fill="#000"/>
<rect x="941" y="315" width="3" height="101" fill="#000"/>
<rect x="945" y="336" width="1" height="95" fill="#c02020"/>
<rect x="944.5" y="350.5" width="2" height="79" fill="#fff" stroke="#c02020" stroke-width="1"/>
<rect x="949" y="325" width="1" height="65" fill="#000"/>
<rect x="948" y="334" width="3" height="11" fill="#000"/>
<rect x="953" y="332" width="1" height="70" fill="#c02020"/>
<rect x="952.5" y="371.5" width="2" height="18" fill="#fff" stroke="#c02020" stroke-width="1"/>
<rect x="956" y="276" width="1" height="247" fill="#000"/>
<rect x="955" y="284" width="3" height="200" fill="#000"/>
</g>
<polyline points="12.9,304.5 13.5,304.4 16.5,301.8 20.5,301.7 23.5,301.5 27.5,301.4 31.5,301.3 34.5,301.2 38.5,299.1 42.5,292.2 45.5,282.3 49.5,275.9 53.5,275.1 56.5,274.4 60.5,274.2 64.5,274.0 67.5,273.6 71.5,270.4 74.5,256.8 78.5,247.1 82.5,244.4 85.5,224.7 89.5,220.1 93.5,219.5 96.5,223.4 100.5,233.4 104.5,232.5 107.5,236.1 111.5,236.1 115.5,244.5 118.5,250.5 122.5,252.4 125.5,254.7 129.5,268.6 133.5,281.6 136.5,281.8 140.5,282.1 144.5,282.3 147.5,283.7 151.5,290.4 155.5,290.3 158.5,290.3 162.5,290.2 166.5,290.2 169.5,290.2 173.5,290.2 177.5,292.3 180.5,292.7 184.5,303.2 187.5,329.6 191.5,329.7 195.5,329.8 198.5,329.9 202.5,330.0 206.5,330.1 209.5,342.3 213.5,357.4 217.5,360.6 220.5,374.2 224.5,378.6 228.5,395.1 231.5,395.1 235.5,395.1 238.5,395.1 242.5,395.1 246.5,395.4 249.5,404.9 253.5,410.9 257.5,417.2 260.5,422.3 264.5,422.6 268.5,422.6 271.5,422.6 275.5,422.6 279.5,422.6 282.5,425.4 286.5,429.0 289.5,429.2 293.5,426.6 297.5,419.2 300.5,413.6 304.5,413.5 308.5,413.5 311.5,413.4 315.5,413.4 319.5,413.3 322.5,408.7 326.5,402.5 330.5,402.3 333.5,402.3 337.5,402.3 340.5,402.3 344.5,402.3 348.5,402.3 351.5,402.3 355.5,402.3 359.5,402.3 362.5,402.3 366.5,402.3 370.5,402.3 373.5,402.1 377.5,398.4 381.5,398.4 384.5,398.4 388.5,398.4 391.5,400.0 395.5,419.1 399.5,421.5 402.5,424.4 406.5,435.7 410.5,451.3 413.5,457.6 417.5,457.6 421.5,457.6 424.5,457.6 428.5,457.6 432.5,457.6 435.5,457.6 439.5,457.6 442.5,457.6 446.5,457.6 450.5,457.6 453.5,457.6 457.5,457.6 461.5,457.6 464.5,457.6 468.5,457.6 472.5,457.6 475.5,464.0 479.5,472.1 483.5,472.1 486.5,472.1 490.5,472.1 493.5,472.1 497.5,472.0 501.5,468.5 504.5,468.3 508.5,468.0 512.5,465.2 515.5,459.1 519.5,446.0 523.5,437.7 526.5,432.5 530.5,430.8 534.5,429.0 537.5,425.2 541.5,401.6 545.5,386.8 548.5,383.1 552.5,369.2 555.5,363.1 559.5,356.2 563.5,356.2 566.5,356.2 570.5,356.2 574.5,356.2 577.5,356.2 581.5,356.2 585.5,355.9 588.5,353.5 592.5,347.0 596.5,346.4 599.5,344.9 603.5,337.6 606.5,332.4 610.5,335.4 614.5,335.4 617.5,335.4 621.5,335.4 625.5,335.4 628.5,337.3 632.5,337.3 636.5,338.6 639.5,338.6 643.5,338.6 647.5,340.8 650.5,351.9 654.5,366.5 657.5,380.5 661.5,402.0 665.5,407.1 668.5,414.4 672.5,420.7 676.5,432.9 679.5,448.1 683.5,448.1 687.5,448.1 690.5,448.1 694.5,464.5 698.5,464.5 701.5,464.5 705.5,464.5 708.5,464.5 712.5,464.5 716.5,468.3 719.5,469.2 723.5,469.3 727.5,469.4 730.5,469.5 734.5,469.6 738.5,469.7 741.5,474.9 745.5,481.7 749.5,479.8 752.5,478.8 756.5,478.4 759.5,514.4 763.5,541.8 767.5,554.8 770.5,582.2 774.5,584.4 778.5,584.4 781.5,584.4 785.5,584.4 789.5,584.4 792.5,584.4 796.5,584.4 800.5,584.4 803.5,584.4 807.5,584.4 810.5,584.4 814.5,584.4 818.5,584.4 821.5,584.4 825.5,584.4 829.5,584.4 832.5,584.4 836.5,584.4 840.5,584.4 843.5,584.4 847.5,601.9 851.5,634.0 854.5,662.5 858.5,662.5 861.5,662.5 865.5,660.3 869.5,660.3 872.5,660.3 876.5,660.3 880.5,660.3 883.5,660.3 887.5,660.3 891.5,660.3 894.5,660.3 898.5,667.3 902.5,667.3 905.5,667.3 909.5,667.3 912.5,667.3 916.5,667.3 920.5,662.1 923.5,655.7 927.5,628.5 931.5,600.0 934.5,578.6 938.5,497.7 942.5,479.9 945.5,479.9 949.5,479.9 953.5,479.5 956.5,471.7" fill="none" stroke="#b01e1e" stroke-width="1"/>
<polyline points="12.0,285.2 13.5,281.6 16.5,272.8 20.5,270.0 23.5,251.6 27.5,246.7 31.5,246.4 34.5,246.2 38.5,241.3 42.5,216.9 45.5,202.4 49.5,194.6 53.5,193.9 56.5,193.4 60.5,193.4 64.5,193.4 67.5,189.0 71.5,186.8 74.5,186.7 78.5,186.5 82.5,193.0 85.5,193.7 89.5,199.1 93.5,201.9 96.5,225.5 100.5,239.2 104.5,241.3 107.5,243.5 111.5,244.7 115.5,253.2 118.5,261.1 122.5,271.4 125.5,309.0 129.5,325.2 133.5,341.1 136.5,341.1 140.5,341.1 144.5,341.1 147.5,340.8 151.5,328.8 155.5,328.6 158.5,328.5 162.5,328.3 166.5,322.4 169.5,319.0 173.5,319.6 177.5,330.4 180.5,330.5 184.5,330.8 187.5,341.3 191.5,346.2 195.5,352.9 198.5,356.5 202.5,357.1 206.5,358.2 209.5,372.1 213.5,385.2 217.5,387.3 220.5,401.8 224.5,410.0 228.5,428.6 231.5,432.0 235.5,449.0 238.5,459.9 242.5,486.2 246.5,481.9 249.5,481.0 253.5,475.5 257.5,475.1 260.5,470.8 264.5,456.6 268.5,446.4 271.5,452.4 275.5,458.6 279.5,459.3 282.5,464.7 286.5,463.8 289.5,450.8 293.5,428.9 297.5,415.3 300.5,402.5 304.5,402.4 308.5,402.4 311.5,400.6 315.5,364.4 319.5,366.3 322.5,367.0 326.5,369.7 330.5,378.3 333.5,398.2 337.5,401.1 340.5,403.7 344.5,412.9 348.5,446.9 351.5,458.3 355.5,462.1 359.5,462.3 362.5,462.4 366.5,462.6 370.5,462.0 373.5,459.4 377.5,457.9 381.5,456.6 384.5,455.7 388.5,449.3 391.5,447.8 395.5,452.9 399.5,454.6 402.5,455.3 406.5,456.2 410.5,457.9 413.5,466.4 417.5,481.8 421.5,473.8 424.5,472.8 428.5,472.8 432.5,472.8 435.5,472.8 439.5,462.2 442.5,461.0 446.5,461.0 450.5,461.0 453.5,461.0 457.5,476.7 461.5,478.4 464.5,478.4 468.5,478.4 472.5,474.8 475.5,471.0 479.5,469.2 483.5,469.2 486.5,469.2 490.5,468.6 493.5,462.2 497.5,453.8 501.5,453.1 504.5,452.8 508.5,452.7 512.5,450.3 515.5,444.3 519.5,431.4 523.5,420.7 526.5,413.2 530.5,407.8 534.5,404.1 537.5,398.9 541.5,364.1 545.5,345.2 548.5,332.0 552.5,312.6 555.5,309.3 559.5,309.2 563.5,309.1 566.5,307.5 570.5,298.3 574.5,296.4 577.5,298.3 581.5,313.7 585.5,317.5 588.5,326.9 592.5,340.3 596.5,347.5 599.5,363.7 603.5,383.9 606.5,389.9 610.5,393.3 614.5,393.3 617.5,393.3 621.5,393.3 625.5,393.7 628.5,397.1 632.5,409.6 636.5,412.6 639.5,412.6 643.5,412.6 647.5,412.6 650.5,413.2 654.5,421.4 657.5,427.4 661.5,435.9 665.5,436.1 668.5,436.3 672.5,440.1 676.5,454.7 679.5,468.8 683.5,489.2 687.5,490.4 690.5,496.0 694.5,496.4 698.5,496.4 701.5,496.4 705.5,514.5 708.5,518.6 712.5,516.1 716.5,515.8 719.5,515.7 723.5,515.6 727.5,500.4 730.5,495.7 734.5,489.6 738.5,488.7 741.5,485.8 745.5,474.6 749.5,462.9 752.5,452.8 756.5,479.9 759.5,514.4 763.5,541.8 767.5,554.8 770.5,582.2 774.5,584.4 778.5,584.4 781.5,584.4 785.5,603.0 789.5,640.9 792.5,662.3 796.5,662.3 800.5,662.3 803.5,625.3 807.5,615.0 810.5,609.4 814.5,606.8 818.5,609.7 821.5,633.3 825.5,648.0 829.5,649.4 832.5,656.8 836.5,669.3 840.5,670.4 843.5,670.5 847.5,688.0 851.5,673.6 854.5,670.3 858.5,670.2 861.5,670.1 865.5,652.7 869.5,645.8 872.5,645.4 876.5,625.2 880.5,615.0 883.5,618.2 887.5,618.2 891.5,618.2 894.5,618.2 898.5,618.3 902.5,620.6 905.5,622.2 909.5,624.2 912.5,623.9 916.5,623.0 920.5,616.0 923.5,610.1 927.5,596.9 931.5,576.7 934.5,544.1 938.5,454.3 942.5,453.8 945.5,450.8 949.5,446.8 953.5,432.8 956.5,420.9" fill="none" stroke="#000070" stroke-width="1"/>
<polyline points="13.5,293.4 16.5,278.4 20.5,302.7 23.5,330.8 27.5,352.9 31.5,286.8 34.5,320.6 38.5,379.1 42.5,390.9 45.5,385.7 49.5,341.8 53.5,322.1 56.5,309.3 60.5,241.3 64.5,274.5 67.5,306.8 71.5,281.5 74.5,313.5 78.5,360.6 82.5,386.8 85.5,412.9 89.5,389.3 93.5,351.5 96.5,296.4 100.5,336.7 104.5,357.3 107.5,328.5 111.5,377.8 115.5,366.3 118.5,445.2 122.5,469.8 125.5,470.4 129.5,501.5 133.5,479.1 136.5,541.7 140.5,508.4 144.5,474.5 147.5,480.6 151.5,450.4 155.5,427.0 158.5,433.0 162.5,410.5 166.5,444.0 169.5,444.2 173.5,419.7 177.5,459.1 180.5,501.5 184.5,490.3 187.5,490.3 191.5,456.0 195.5,450.4 198.5,374.2 202.5,360.4 206.5,301.8 209.5,377.5 213.5,384.7 217.5,329.0 220.5,335.6 224.5,369.7 228.5,440.6 231.5,444.7 235.5,439.6 238.5,468.3 242.5,440.6 246.5,416.0 249.5,436.5 253.5,448.8 257.5,415.2 260.5,507.7 264.5,511.8 268.5,481.3 271.5,468.5 275.5,462.9 279.5,421.1 282.5,410.2 286.5,417.2 289.5,402.0 293.5,444.7 297.5,493.6 300.5,491.9 304.5,485.1 308.5,479.0 311.5,515.3 315.5,470.2 319.5,464.9 322.5,478.7 326.5,450.0 330.5,426.0 333.5,473.7 337.5,478.4 340.5,479.5 344.5,475.4 348.5,494.8 351.5,491.8 355.5,453.2 359.5,483.4 362.5,488.7 366.5,511.7 370.5,486.1 373.5,482.0 377.5,446.6 381.5,452.7 384.5,425.5 388.5,437.8 391.5,450.4 395.5,439.8 399.5,466.0 402.5,464.2 406.5,469.3 410.5,450.4 413.5,460.0 417.5,439.3 421.5,431.1 424.5,425.0 428.5,386.0 432.5,369.0 435.5,377.8 439.5,362.9 442.5,382.4 446.5,370.1 450.5,314.2 453.5,267.1 457.5,295.8 461.5,241.0 464.5,270.7 468.5,288.1 472.5,308.1 475.5,330.6 479.5,338.3 483.5,356.2 486.5,354.7 490.5,386.5 493.5,373.1 497.5,397.3 501.5,396.8 504.5,399.3 508.5,386.0 512.5,394.8 515.5,430.9 519.5,439.4 523.5,430.2 526.5,403.0 530.5,382.6 534.5,423.0 537.5,428.0 541.5,436.4 545.5,423.6 548.5,412.8 552.5,405.6 555.5,400.5 559.5,444.6 563.5,437.4 566.5,474.5 570.5,481.0 574.5,445.0 577.5,457.2 581.5,486.6 585.5,488.7 588.5,529.7 592.5,528.8 596.5,514.3 599.5,535.3 603.5,531.2 606.5,501.0 610.5,524.6 614.5,511.2 617.5,503.6 621.5,517.4 625.5,512.3 628.5,492.3 632.5,488.2 636.5,470.8 639.5,473.5 643.5,459.4 647.5,454.2 650.5,465.6 654.5,421.0 657.5,427.7 661.5,416.9 665.5,516.4 668.5,620.5 672.5,647.7 676.5,671.8 679.5,612.3 683.5,661.0 687.5,630.7 690.5,630.7 694.5,634.3 698.5,610.2 701.5,564.0 705.5,597.4 708.5,584.6 712.5,614.3 716.5,603.6 719.5,598.4 723.5,619.4 727.5,653.8 730.5,699.5 734.5,677.9 738.5,698.8 741.5,722.2 745.5,681.0 749.5,702.9 752.5,664.1 756.5,640.8 759.5,621.3 763.5,585.3 767.5,596.0 770.5,628.4 774.5,610.5 778.5,605.9 781.5,608.9 785.5,630.0 789.5,637.6 792.5,630.5 796.5,631.0 800.5,643.3 803.5,623.3 807.5,642.2 810.5,645.8 814.5,609.5 818.5,590.5 821.5,601.8 825.5,591.0 829.5,566.3 832.5,551.5 836.5,557.6 840.5,491.0 843.5,494.0 847.5,389.2 851.5,415.8 854.5,350.3 858.5,344.7 861.5,371.3 865.5,483.5" fill="none" stroke="#0a8080" stroke-width="1"/>
<g stroke="#c0c0c0" stroke-width="1" fill="none">
<line x1="104.5" y1="241.9" x2="104.5" y2="286.7"/>
<line x1="107.5" y1="241.9" x2="107.5" y2="286.3"/>
<line x1="111.5" y1="241.9" x2="111.5" y2="286.0"/>
<line x1="115.5" y1="241.9" x2="115.5" y2="279.6"/>
<line x1="118.5" y1="242.2" x2="118.5" y2="275.3"/>
<line x1="122.5" y1="254.2" x2="122.5" y2="273.5"/>
<line x1="125.5" y1="255.6" x2="125.5" y2="271.1"/>
<line x1="129.5" y1="255.8" x2="129.5" y2="268.6"/>
<line x1="133.5" y1="255.9" x2="133.5" y2="260.5"/>
<line x1="136.5" y1="247.1" x2="136.5" y2="259.4"/>
<line x1="140.5" y1="236.9" x2="140.5" y2="273.9"/>
<line x1="144.5" y1="235.4" x2="144.5" y2="274.5"/>
<line x1="147.5" y1="234.8" x2="147.5" y2="274.5"/>
<line x1="151.5" y1="234.2" x2="151.5" y2="274.5"/>
<line x1="155.5" y1="233.5" x2="155.5" y2="274.5"/>
<line x1="158.5" y1="232.9" x2="158.5" y2="274.5"/>
<line x1="162.5" y1="228.6" x2="162.5" y2="274.5"/>
<line x1="166.5" y1="221.7" x2="166.5" y2="274.5"/>
<line x1="169.5" y1="216.8" x2="169.5" y2="274.5"/>
<line x1="173.5" y1="218.7" x2="173.5" y2="274.5"/>
<line x1="177.5" y1="209.2" x2="177.5" y2="274.5"/>
<line x1="180.5" y1="209.6" x2="180.5" y2="274.4"/>
<line x1="184.5" y1="210.7" x2="184.5" y2="274.4"/>
<line x1="187.5" y1="224.4" x2="187.5" y2="274.4"/>
<line x1="191.5" y1="236.3" x2="191.5" y2="274.4"/>
<line x1="195.5" y1="236.9" x2="195.5" y2="274.4"/>
<line x1="198.5" y1="239.8" x2="198.5" y2="274.4"/>
<line x1="202.5" y1="240.4" x2="202.5" y2="274.4"/>
<line x1="206.5" y1="248.9" x2="206.5" y2="274.4"/>
<line x1="209.5" y1="255.8" x2="209.5" y2="274.4"/>
<line x1="213.5" y1="261.9" x2="213.5" y2="274.4"/>
<line x1="217.5" y1="274.4" x2="217.5" y2="281.9"/>
<line x1="220.5" y1="274.8" x2="220.5" y2="296.9"/>
<line x1="224.5" y1="282.0" x2="224.5" y2="311.4"/>
<line x1="228.5" y1="282.4" x2="228.5" y2="311.5"/>
<line x1="231.5" y1="282.4" x2="231.5" y2="311.6"/>
<line x1="235.5" y1="282.5" x2="235.5" y2="311.7"/>
<line x1="238.5" y1="282.5" x2="238.5" y2="312.2"/>
<line x1="242.5" y1="282.5" x2="242.5" y2="309.6"/>
<line x1="246.5" y1="282.5" x2="246.5" y2="309.5"/>
<line x1="249.5" y1="282.5" x2="249.5" y2="309.4"/>
<line x1="253.5" y1="282.5" x2="253.5" y2="309.3"/>
<line x1="257.5" y1="282.6" x2="257.5" y2="306.3"/>
<line x1="260.5" y1="282.6" x2="260.5" y2="304.6"/>
<line x1="264.5" y1="282.6" x2="264.5" y2="304.9"/>
<line x1="268.5" y1="284.5" x2="268.5" y2="311.3"/>
<line x1="271.5" y1="284.5" x2="271.5" y2="311.6"/>
<line x1="275.5" y1="284.5" x2="275.5" y2="317.0"/>
<line x1="279.5" y1="284.5" x2="279.5" y2="335.5"/>
<line x1="282.5" y1="284.5" x2="282.5" y2="338.0"/>
<line x1="286.5" y1="284.4" x2="286.5" y2="341.4"/>
<line x1="289.5" y1="284.4" x2="289.5" y2="343.2"/>
<line x1="293.5" y1="284.4" x2="293.5" y2="343.5"/>
<line x1="297.5" y1="284.4" x2="297.5" y2="344.1"/>
<line x1="300.5" y1="298.4" x2="300.5" y2="357.2"/>
<line x1="304.5" y1="312.0" x2="304.5" y2="371.3"/>
<line x1="308.5" y1="312.5" x2="308.5" y2="373.9"/>
<line x1="311.5" y1="329.1" x2="311.5" y2="388.0"/>
<line x1="315.5" y1="329.1" x2="315.5" y2="394.3"/>
<line x1="319.5" y1="349.1" x2="319.5" y2="411.8"/>
<line x1="322.5" y1="349.1" x2="322.5" y2="413.6"/>
<line x1="326.5" y1="349.1" x2="326.5" y2="422.0"/>
<line x1="330.5" y1="349.1" x2="330.5" y2="427.5"/>
<line x1="333.5" y1="349.1" x2="333.5" y2="440.6"/>
<line x1="337.5" y1="356.4" x2="337.5" y2="438.7"/>
<line x1="340.5" y1="356.4" x2="340.5" y2="443.0"/>
<line x1="344.5" y1="356.4" x2="344.5" y2="443.2"/>
<line x1="348.5" y1="356.4" x2="348.5" y2="446.1"/>
<line x1="351.5" y1="356.4" x2="351.5" y2="446.5"/>
<line x1="355.5" y1="356.4" x2="355.5" y2="439.6"/>
<line x1="359.5" y1="356.4" x2="359.5" y2="434.5"/>
<line x1="362.5" y1="356.4" x2="362.5" y2="437.5"/>
<line x1="366.5" y1="356.4" x2="366.5" y2="440.6"/>
<line x1="370.5" y1="366.5" x2="370.5" y2="441.0"/>
<line x1="373.5" y1="395.6" x2="373.5" y2="445.1"/>
<line x1="377.5" y1="395.6" x2="377.5" y2="446.4"/>
<line x1="381.5" y1="395.6" x2="381.5" y2="440.0"/>
<line x1="384.5" y1="395.6" x2="384.5" y2="427.8"/>
<line x1="388.5" y1="395.6" x2="388.5" y2="417.3"/>
<line x1="391.5" y1="395.6" x2="391.5" y2="408.1"/>
<line x1="395.5" y1="395.6" x2="395.5" y2="408.0"/>
<line x1="399.5" y1="395.6" x2="399.5" y2="407.9"/>
<line x1="402.5" y1="395.6" x2="402.5" y2="407.0"/>
<line x1="406.5" y1="388.9" x2="406.5" y2="395.6"/>
<line x1="410.5" y1="389.8" x2="410.5" y2="395.6"/>
<line x1="413.5" y1="387.8" x2="413.5" y2="395.6"/>
<line x1="417.5" y1="386.1" x2="417.5" y2="395.6"/>
<line x1="421.5" y1="390.3" x2="421.5" y2="395.6"/>
<line x1="424.5" y1="395.6" x2="424.5" y2="400.3"/>
<line x1="428.5" y1="395.6" x2="428.5" y2="401.7"/>
<line x1="432.5" y1="397.8" x2="432.5" y2="403.0"/>
<line x1="435.5" y1="407.6" x2="435.5" y2="410.0"/>
<line x1="439.5" y1="412.8" x2="439.5" y2="424.6"/>
<line x1="442.5" y1="412.8" x2="442.5" y2="430.3"/>
<line x1="446.5" y1="412.8" x2="446.5" y2="432.2"/>
<line x1="450.5" y1="412.8" x2="450.5" y2="432.3"/>
<line x1="453.5" y1="412.8" x2="453.5" y2="432.4"/>
<line x1="457.5" y1="412.8" x2="457.5" y2="432.4"/>
<line x1="461.5" y1="412.8" x2="461.5" y2="432.1"/>
<line x1="464.5" y1="412.8" x2="464.5" y2="430.7"/>
<line x1="468.5" y1="412.8" x2="468.5" y2="428.2"/>
<line x1="472.5" y1="412.8" x2="472.5" y2="427.5"/>
<line x1="475.5" y1="412.8" x2="475.5" y2="427.0"/>
<line x1="479.5" y1="412.8" x2="479.5" y2="423.9"/>
<line x1="483.5" y1="412.8" x2="483.5" y2="423.9"/>
<line x1="486.5" y1="412.8" x2="486.5" y2="436.0"/>
<line x1="490.5" y1="412.8" x2="490.5" y2="438.0"/>
<line x1="493.5" y1="412.8" x2="493.5" y2="439.8"/>
<line x1="497.5" y1="412.8" x2="497.5" y2="446.0"/>
<line x1="501.5" y1="412.8" x2="501.5" y2="454.6"/>
<line x1="504.5" y1="412.8" x2="504.5" y2="462.0"/>
<line x1="508.5" y1="409.4" x2="508.5" y2="469.7"/>
<line x1="512.5" y1="401.9" x2="512.5" y2="465.7"/>
<line x1="515.5" y1="401.9" x2="515.5" y2="465.2"/>
<line x1="519.5" y1="401.9" x2="519.5" y2="465.2"/>
<line x1="523.5" y1="401.9" x2="523.5" y2="465.2"/>
<line x1="526.5" y1="401.9" x2="526.5" y2="465.2"/>
<line x1="530.5" y1="401.9" x2="530.5" y2="459.9"/>
<line x1="534.5" y1="401.9" x2="534.5" y2="459.3"/>
<line x1="537.5" y1="401.9" x2="537.5" y2="459.3"/>
<line x1="541.5" y1="401.9" x2="541.5" y2="459.3"/>
<line x1="545.5" y1="401.9" x2="545.5" y2="459.3"/>
<line x1="548.5" y1="401.9" x2="548.5" y2="467.2"/>
<line x1="552.5" y1="401.9" x2="552.5" y2="468.0"/>
<line x1="555.5" y1="401.9" x2="555.5" y2="468.0"/>
<line x1="559.5" y1="401.9" x2="559.5" y2="468.0"/>
<line x1="563.5" y1="398.8" x2="563.5" y2="466.2"/>
<line x1="566.5" y1="398.8" x2="566.5" y2="467.5"/>
<line x1="570.5" y1="398.8" x2="570.5" y2="470.6"/>
<line x1="574.5" y1="398.8" x2="574.5" y2="470.6"/>
<line x1="577.5" y1="398.8" x2="577.5" y2="470.6"/>
<line x1="581.5" y1="423.9" x2="581.5" y2="470.3"/>
<line x1="585.5" y1="423.9" x2="585.5" y2="467.1"/>
<line x1="588.5" y1="423.9" x2="588.5" y2="462.9"/>
<line x1="592.5" y1="433.8" x2="592.5" y2="460.8"/>
<line x1="596.5" y1="457.4" x2="596.5" y2="460.5"/>
<line x1="599.5" y1="457.4" x2="599.5" y2="460.3"/>
<line x1="606.5" y1="451.7" x2="606.5" y2="457.4"/>
<line x1="610.5" y1="438.7" x2="610.5" y2="448.4"/>
<line x1="614.5" y1="429.2" x2="614.5" y2="441.7"/>
<line x1="617.5" y1="422.9" x2="617.5" y2="434.8"/>
<line x1="621.5" y1="419.3" x2="621.5" y2="434.8"/>
<line x1="625.5" y1="416.6" x2="625.5" y2="431.7"/>
<line x1="628.5" y1="412.1" x2="628.5" y2="431.7"/>
<line x1="632.5" y1="382.9" x2="632.5" y2="404.8"/>
<line x1="636.5" y1="366.0" x2="636.5" y2="390.4"/>
<line x1="639.5" y1="357.6" x2="639.5" y2="390.4"/>
<line x1="643.5" y1="340.9" x2="643.5" y2="373.8"/>
<line x1="647.5" y1="336.2" x2="647.5" y2="373.8"/>
<line x1="650.5" y1="332.7" x2="650.5" y2="373.8"/>
<line x1="654.5" y1="332.7" x2="654.5" y2="373.8"/>
<line x1="657.5" y1="331.8" x2="657.5" y2="373.8"/>
<line x1="661.5" y1="327.3" x2="661.5" y2="373.8"/>
<line x1="665.5" y1="326.3" x2="665.5" y2="373.8"/>
<line x1="668.5" y1="327.2" x2="668.5" y2="373.8"/>
<line x1="672.5" y1="334.9" x2="672.5" y2="373.8"/>
<line x1="676.5" y1="336.7" x2="676.5" y2="373.8"/>
<line x1="679.5" y1="340.2" x2="679.5" y2="373.8"/>
<line x1="683.5" y1="343.6" x2="683.5" y2="373.8"/>
<line x1="687.5" y1="346.9" x2="687.5" y2="369.9"/>
<line x1="690.5" y1="354.3" x2="690.5" y2="369.9"/>
<line x1="694.5" y1="360.7" x2="694.5" y2="369.9"/>
<line x1="698.5" y1="361.1" x2="698.5" y2="369.9"/>
<line x1="701.5" y1="364.4" x2="701.5" y2="369.9"/>
<line x1="705.5" y1="364.4" x2="705.5" y2="369.9"/>
<line x1="708.5" y1="364.4" x2="708.5" y2="369.9"/>
<line x1="712.5" y1="364.4" x2="712.5" y2="369.9"/>
<line x1="716.5" y1="364.6" x2="716.5" y2="369.9"/>
<line x1="719.5" y1="367.2" x2="719.5" y2="369.9"/>
<line x1="723.5" y1="369.9" x2="723.5" y2="373.5"/>
<line x1="727.5" y1="369.9" x2="727.5" y2="375.6"/>
<line x1="730.5" y1="369.9" x2="730.5" y2="375.6"/>
<line x1="734.5" y1="369.9" x2="734.5" y2="375.6"/>
<line x1="738.5" y1="369.1" x2="738.5" y2="376.7"/>
<line x1="741.5" y1="362.2" x2="741.5" y2="382.6"/>
<line x1="745.5" y1="354.9" x2="745.5" y2="393.9"/>
<line x1="749.5" y1="354.9" x2="749.5" y2="404.0"/>
<line x1="752.5" y1="355.4" x2="752.5" y2="418.9"/>
<line x1="756.5" y1="355.4" x2="756.5" y2="421.6"/>
<line x1="759.5" y1="355.4" x2="759.5" y2="425.4"/>
<line x1="763.5" y1="360.2" x2="763.5" y2="430.4"/>
<line x1="767.5" y1="372.2" x2="767.5" y2="443.8"/>
<line x1="770.5" y1="388.4" x2="770.5" y2="458.4"/>
<line x1="774.5" y1="388.4" x2="774.5" y2="468.6"/>
<line x1="778.5" y1="388.4" x2="778.5" y2="469.3"/>
<line x1="781.5" y1="388.4" x2="781.5" y2="472.1"/>
<line x1="785.5" y1="388.4" x2="785.5" y2="480.4"/>
<line x1="789.5" y1="388.4" x2="789.5" y2="480.4"/>
<line x1="792.5" y1="388.4" x2="792.5" y2="480.4"/>
<line x1="796.5" y1="388.4" x2="796.5" y2="489.5"/>
<line x1="800.5" y1="388.4" x2="800.5" y2="491.6"/>
<line x1="803.5" y1="388.4" x2="803.5" y2="490.3"/>
<line x1="807.5" y1="388.4" x2="807.5" y2="492.0"/>
<line x1="810.5" y1="388.4" x2="810.5" y2="492.5"/>
<line x1="814.5" y1="388.4" x2="814.5" y2="492.5"/>
<line x1="818.5" y1="388.4" x2="818.5" y2="484.9"/>
<line x1="821.5" y1="388.4" x2="821.5" y2="482.6"/>
<line x1="825.5" y1="388.4" x2="825.5" y2="479.6"/>
<line x1="829.5" y1="388.4" x2="829.5" y2="479.2"/>
<line x1="832.5" y1="391.0" x2="832.5" y2="480.4"/>
<line x1="836.5" y1="403.0" x2="836.5" y2="478.1"/>
<line x1="840.5" y1="413.0" x2="840.5" y2="471.4"/>
<line x1="843.5" y1="419.4" x2="843.5" y2="465.8"/>
<line x1="847.5" y1="434.4" x2="847.5" y2="479.2"/>
<line x1="851.5" y1="488.9" x2="851.5" y2="514.4"/>
<line x1="854.5" y1="513.5" x2="854.5" y2="541.8"/>
<line x1="858.5" y1="524.7" x2="858.5" y2="554.8"/>
<line x1="861.5" y1="554.4" x2="861.5" y2="582.2"/>
<line x1="865.5" y1="554.4" x2="865.5" y2="584.4"/>
<line x1="869.5" y1="554.4" x2="869.5" y2="584.4"/>
<line x1="872.5" y1="554.4" x2="872.5" y2="584.4"/>
<line x1="876.5" y1="554.4" x2="876.5" y2="593.7"/>
<line x1="880.5" y1="572.1" x2="880.5" y2="612.6"/>
<line x1="883.5" y1="572.1" x2="883.5" y2="623.3"/>
<line x1="887.5" y1="572.1" x2="887.5" y2="623.3"/>
<line x1="891.5" y1="572.1" x2="891.5" y2="623.3"/>
<line x1="894.5" y1="572.1" x2="894.5" y2="604.9"/>
<line x1="898.5" y1="572.1" x2="898.5" y2="599.7"/>
<line x1="902.5" y1="574.0" x2="902.5" y2="596.9"/>
<line x1="905.5" y1="575.0" x2="905.5" y2="595.6"/>
<line x1="909.5" y1="575.0" x2="909.5" y2="597.1"/>
<line x1="912.5" y1="575.0" x2="912.5" y2="608.8"/>
<line x1="916.5" y1="575.0" x2="916.5" y2="616.2"/>
<line x1="920.5" y1="575.0" x2="920.5" y2="616.9"/>
<line x1="923.5" y1="575.0" x2="923.5" y2="620.6"/>
<line x1="927.5" y1="579.0" x2="927.5" y2="626.8"/>
<line x1="931.5" y1="586.8" x2="931.5" y2="627.4"/>
<line x1="934.5" y1="586.8" x2="934.5" y2="627.5"/>
<line x1="938.5" y1="586.8" x2="938.5" y2="645.0"/>
<line x1="942.5" y1="586.8" x2="942.5" y2="653.8"/>
<line x1="945.5" y1="586.8" x2="945.5" y2="666.4"/>
<line x1="949.5" y1="586.8" x2="949.5" y2="666.3"/>
<line x1="953.5" y1="586.8" x2="953.5" y2="666.3"/>
<line x1="956.5" y1="586.8" x2="956.5" y2="656.5"/>
<line x1="960.5" y1="586.8" x2="960.5" y2="653.0"/>
<line x1="964.5" y1="586.8" x2="964.5" y2="652.8"/>
<line x1="967.5" y1="586.8" x2="967.5" y2="642.7"/>
<line x1="971.5" y1="586.8" x2="971.5" y2="637.7"/>
<line x1="974.5" y1="586.8" x2="974.5" y2="639.2"/>
<line x1="978.5" y1="586.8" x2="978.5" y2="639.2"/>
<line x1="982.5" y1="586.8" x2="982.5" y2="639.2"/>
<line x1="985.5" y1="586.8" x2="985.5" y2="639.2"/>
<line x1="989.5" y1="586.8" x2="989.5" y2="642.8"/>
<line x1="993.5" y1="586.8" x2="993.5" y2="644.0"/>
<line x1="996.5" y1="586.8" x2="996.5" y2="644.8"/>
<line x1="1000.5" y1="586.8" x2="1000.5" y2="645.8"/>
<line x1="1004.5" y1="586.8" x2="1004.5" y2="645.6"/>
<line x1="1007.5" y1="586.8" x2="1007.5" y2="645.1"/>
<line x1="1011.5" y1="586.8" x2="1011.5" y2="639.1"/>
<line x1="1015.5" y1="586.8" x2="1015.5" y2="632.9"/>
<line x1="1018.5" y1="586.8" x2="1018.5" y2="612.7"/>
<line x1="1022.5" y1="586.8" x2="1022.5" y2="588.3"/>
<line x1="1025.5" y1="561.3" x2="1025.5" y2="586.8"/>
<line x1="1029.5" y1="476.0" x2="1029.5" y2="527.9"/>
<line x1="1033.5" y1="466.9" x2="1033.5" y2="527.9"/>
<line x1="1036.5" y1="465.4" x2="1036.5" y2="527.9"/>
<line x1="1040.5" y1="463.4" x2="1040.5" y2="527.9"/>
<line x1="1044.5" y1="456.1" x2="1044.5" y2="527.9"/>
<line x1="1047.5" y1="446.3" x2="1047.5" y2="520.0"/>
</g>
<polyline points="12.9,295.4 104.5,286.7 107.5,286.3 111.5,286.0 115.5,279.6 118.5,275.3 122.5,273.5 125.5,271.1 129.5,268.6 133.5,260.5 136.5,247.1 140.5,236.9 144.5,235.4 147.5,234.8 151.5,234.2 155.5,233.5 158.5,232.9 162.5,228.6 166.5,221.7 169.5,216.8 173.5,218.7 177.5,209.2 180.5,209.6 184.5,210.7 187.5,224.4 191.5,236.3 195.5,236.9 198.5,239.8 202.5,240.4 206.5,248.9 209.5,255.8 213.5,261.9 217.5,281.9 220.5,296.9 224.5,311.4 228.5,311.5 231.5,311.6 235.5,311.7 238.5,312.2 242.5,309.6 246.5,309.5 249.5,309.4 253.5,309.3 257.5,306.3 260.5,304.6 264.5,304.9 268.5,311.3 271.5,311.6 275.5,317.0 279.5,335.5 282.5,338.0 286.5,341.4 289.5,343.2 293.5,343.5 297.5,344.1 300.5,357.2 304.5,371.3 308.5,373.9 311.5,388.0 315.5,394.3 319.5,411.8 322.5,413.6 326.5,422.0 330.5,427.5 333.5,440.6 337.5,438.7 340.5,443.0 344.5,443.2 348.5,446.1 351.5,446.5 355.5,439.6 359.5,434.5 362.5,437.5 366.5,440.6 370.5,441.0 373.5,445.1 377.5,446.4 381.5,440.0 384.5,427.8 388.5,417.3 391.5,408.1 395.5,408.0 399.5,407.9 402.5,407.0 406.5,388.9 410.5,389.8 413.5,387.8 417.5,386.1 421.5,390.3 424.5,400.3 428.5,401.7 432.5,403.0 435.5,407.6 439.5,424.6 442.5,430.3 446.5,432.2 450.5,432.3 453.5,432.4 457.5,432.4 461.5,432.1 464.5,430.7 468.5,428.2 472.5,427.5 475.5,427.0 479.5,423.9 483.5,423.9 486.5,436.0 490.5,438.0 493.5,439.8 497.5,446.0 501.5,454.6 504.5,462.0 508.5,469.7 512.5,465.7 515.5,465.2 519.5,465.2 523.5,465.2 526.5,465.2 530.5,459.9 534.5,459.3 537.5,459.3 541.5,459.3 545.5,459.3 548.5,467.2 552.5,468.0 555.5,468.0 559.5,468.0 563.5,466.2 566.5,467.5 570.5,470.6 574.5,470.6 577.5,470.6 581.5,470.3 585.5,467.1 588.5,462.9 592.5,460.8 596.5,460.5 599.5,460.3 603.5,457.7 606.5,451.7 610.5,438.7 614.5,429.2 617.5,422.9 621.5,419.3 625.5,416.6 628.5,412.1 632.5,382.9 636.5,366.0 639.5,357.6 643.5,340.9 647.5,336.2 650.5,332.7 654.5,332.7 657.5,331.8 661.5,327.3 665.5,326.3 668.5,327.2 672.5,334.9 676.5,336.7 679.5,340.2 683.5,343.6 687.5,346.9 690.5,354.3 694.5,360.7 698.5,361.1 701.5,364.4 705.5,364.4 708.5,364.4 712.5,364.4 716.5,364.6 719.5,367.2 723.5,373.5 727.5,375.6 730.5,375.6 734.5,375.6 738.5,376.7 741.5,382.6 745.5,393.9 749.5,404.0 752.5,418.9 756.5,421.6 759.5,425.4 763.5,430.4 767.5,443.8 770.5,458.4 774.5,468.6 778.5,469.3 781.5,472.1 785.5,480.4 789.5,480.4 792.5,480.4 796.5,489.5 800.5,491.6 803.5,490.3 807.5,492.0 810.5,492.5 814.5,492.5 818.5,484.9 821.5,482.6 825.5,479.6 829.5,479.2 832.5,480.4 836.5,478.1 840.5,471.4 843.5,465.8 847.5,479.2 851.5,514.4 854.5,541.8 858.5,554.8 861.5,582.2 865.5,584.4 869.5,584.4 872.5,584.4 876.5,593.7 880.5,612.6 883.5,623.3 887.5,623.3 891.5,623.3 894.5,604.9 898.5,599.7 902.5,596.9 905.5,595.6 909.5,597.1 912.5,608.8 916.5,616.2 920.5,616.9 923.5,620.6 927.5,626.8 931.5,627.4 934.5,627.5 938.5,645.0 942.5,653.8 945.5,666.4 949.5,666.3 953.5,666.3 956.5,656.5 960.5,653.0 964.5,652.8 967.5,642.7 971.5,637.7 974.5,639.2 978.5,639.2 982.5,639.2 985.5,639.2 989.5,642.8 993.5,644.0 996.5,644.8 1000.5,645.8 1004.5,645.6 1007.5,645.1 1011.5,639.1 1015.5,632.9 1018.5,612.7 1022.5,588.3 1025.5,561.3 1029.5,476.0 1033.5,466.9 1036.5,465.4 1040.5,463.4 1044.5,456.1 1047.5,446.3" fill="none" stroke="#c0c0c0" stroke-width="1"/>
<polyline points="12.5,241.9 104.5,241.9 107.5,241.9 111.5,241.9 115.5,241.9 118.5,242.2 122.5,254.2 125.5,255.6 129.5,255.8 133.5,255.9 136.5,259.4 140.5,273.9 144.5,274.5 147.5,274.5 151.5,274.5 155.5,274.5 158.5,274.5 162.5,274.5 166.5,274.5 169.5,274.5 173.5,274.5 177.5,274.5 180.5,274.4 184.5,274.4 187.5,274.4 191.5,274.4 195.5,274.4 198.5,274.4 202.5,274.4 206.5,274.4 209.5,274.4 213.5,274.4 217.5,274.4 220.5,274.8 224.5,282.0 228.5,282.4 231.5,282.4 235.5,282.5 238.5,282.5 242.5,282.5 246.5,282.5 249.5,282.5 253.5,282.5 257.5,282.6 260.5,282.6 264.5,282.6 268.5,284.5 271.5,284.5 275.5,284.5 279.5,284.5 282.5,284.5 286.5,284.4 289.5,284.4 293.5,284.4 297.5,284.4 300.5,298.4 304.5,312.0 308.5,312.5 311.5,329.1 315.5,329.1 319.5,349.1 322.5,349.1 326.5,349.1 330.5,349.1 333.5,349.1 337.5,356.4 340.5,356.4 344.5,356.4 348.5,356.4 351.5,356.4 355.5,356.4 359.5,356.4 362.5,356.4 366.5,356.4 370.5,366.5 373.5,395.6 377.5,395.6 381.5,395.6 384.5,395.6 388.5,395.6 391.5,395.6 395.5,395.6 399.5,395.6 402.5,395.6 406.5,395.6 410.5,395.6 413.5,395.6 417.5,395.6 421.5,395.6 424.5,395.6 428.5,395.6 432.5,397.8 435.5,410.0 439.5,412.8 442.5,412.8 446.5,412.8 450.5,412.8 453.5,412.8 457.5,412.8 461.5,412.8 464.5,412.8 468.5,412.8 472.5,412.8 475.5,412.8 479.5,412.8 483.5,412.8 486.5,412.8 490.5,412.8 493.5,412.8 497.5,412.8 501.5,412.8 504.5,412.8 508.5,409.4 512.5,401.9 515.5,401.9 519.5,401.9 523.5,401.9 526.5,401.9 530.5,401.9 534.5,401.9 537.5,401.9 541.5,401.9 545.5,401.9 548.5,401.9 552.5,401.9 555.5,401.9 559.5,401.9 563.5,398.8 566.5,398.8 570.5,398.8 574.5,398.8 577.5,398.8 581.5,423.9 585.5,423.9 588.5,423.9 592.5,433.8 596.5,457.4 599.5,457.4 603.5,457.4 606.5,457.4 610.5,448.4 614.5,441.7 617.5,434.8 621.5,434.8 625.5,431.7 628.5,431.7 632.5,404.8 636.5,390.4 639.5,390.4 643.5,373.8 647.5,373.8 650.5,373.8 654.5,373.8 657.5,373.8 661.5,373.8 665.5,373.8 668.5,373.8 672.5,373.8 676.5,373.8 679.5,373.8 683.5,373.8 687.5,369.9 690.5,369.9 694.5,369.9 698.5,369.9 701.5,369.9 705.5,369.9 708.5,369.9 712.5,369.9 716.5,369.9 719.5,369.9 723.5,369.9 727.5,369.9 730.5,369.9 734.5,369.9 738.5,369.1 741.5,362.2 745.5,354.9 749.5,354.9 752.5,355.4 756.5,355.4 759.5,355.4 763.5,360.2 767.5,372.2 770.5,388.4 774.5,388.4 778.5,388.4 781.5,388.4 785.5,388.4 789.5,388.4 792.5,388.4 796.5,388.4 800.5,388.4 803.5,388.4 807.5,388.4 810.5,388.4 814.5,388.4 818.5,388.4 821.5,388.4 825.5,388.4 829.5,388.4 832.5,391.0 836.5,403.0 840.5,413.0 843.5,419.4 847.5,434.4 851.5,488.9 854.5,513.5 858.5,524.7 861.5,554.4 865.5,554.4 869.5,554.4 872.5,554.4 876.5,554.4 880.5,572.1 883.5,572.1 887.5,572.1 891.5,572.1 894.5,572.1 898.5,572.1 902.5,574.0 905.5,575.0 909.5,575.0 912.5,575.0 916.5,575.0 920.5,575.0 923.5,575.0 927.5,579.0 931.5,586.8 934.5,586.8 938.5,586.8 942.5,586.8 945.5,586.8 949.5,586.8 953.5,586.8 956.5,586.8 960.5,586.8 964.5,586.8 967.5,586.8 971.5,586.8 974.5,586.8 978.5,586.8 982.5,586.8 985.5,586.8 989.5,586.8 993.5,586.8 996.5,586.8 1000.5,586.8 1004.5,586.8 1007.5,586.8 1011.5,586.8 1015.5,586.8 1018.5,586.8 1022.5,586.8 1025.5,586.8 1029.5,527.9 1033.5,527.9 1036.5,527.9 1040.5,527.9 1044.5,527.9 1047.5,520.0" fill="none" stroke="#c0c0c0" stroke-width="1"/>
<line x1="55.0" y1="147.5" x2="1133.0" y2="316.3" stroke="#b01e1e" stroke-width="1"/>
<rect x="27" y="36" width="720" height="22" fill="#fff"/>
<g fill="#000" stroke="#000" stroke-width="0.35" shape-rendering="auto" text-rendering="geometricPrecision">
<text class="m" transform="translate(295.80 22.60) scale(0.58 1)" x="0.00 20.69" y="0" font-size="24.0" text-anchor="middle" stroke-width="0.45">NY</text><text class="m" y="22.60" text-anchor="middle"><tspan x="320.00 337.20 360.20" font-size="22.2">･原油</tspan><tspan x="378.00"> </tspan><tspan x="389.80" font-size="24.0" stroke-width="0.12">[</tspan><tspan x="407.20 430.20" font-size="22.2">日足</tspan><tspan x="447.80" font-size="24.0" stroke-width="0.12">]</tspan><tspan x="460.00"> </tspan><tspan x="489.20 512.20 535.20 558.20 581.20" font-size="22.2">一目均衡表</tspan><tspan x="598.80 610.80 622.80 634.80 646.80 658.80 670.80" font-size="24.0" stroke-width="0.12">(26,26)</tspan><tspan x="683.00"> </tspan><tspan x="706.80 718.80 730.80 742.80 754.80 766.80" font-size="24.0" stroke-width="0.12">240618</tspan><tspan x="779.00"> </tspan><tspan x="790.80" font-size="24.0" stroke-width="0.12">-</tspan><tspan x="803.00"> </tspan><tspan x="814.80 826.80 838.80 850.80 862.80 874.80" font-size="24.0" stroke-width="0.12">250623</tspan></text>
<text class="m" y="54.50" text-anchor="middle"><tspan x="38.20 61.20 84.20" font-size="22.2">現在値</tspan><tspan x="102.00"> </tspan><tspan x="113.80" font-size="24.0" stroke-width="0.12">=</tspan><tspan x="126.00"> </tspan><tspan x="137.80 149.80 161.80 173.80 185.80" font-size="24.0" stroke-width="0.12">68.51</tspan><tspan x="198.00"> </tspan><tspan x="227.20 250.20 273.20" font-size="22.2">前日比</tspan><tspan x="291.00"> </tspan><tspan x="302.80" font-size="24.0" stroke-width="0.12">=</tspan><tspan x="315.00"> </tspan><tspan x="326.80 338.80 350.80 362.80 374.80" font-size="24.0" stroke-width="0.12">-5.33</tspan><tspan x="387.00"> </tspan><tspan x="428.20 451.20 474.20" font-size="22.2">基準線</tspan><tspan x="491.80 503.80 515.80 527.80 539.80 551.80" font-size="24.0" stroke-width="0.12">=69.07</tspan><tspan x="564.00"> </tspan><tspan x="605.20 628.20 651.20" font-size="22.2">転換線</tspan><tspan x="668.80 680.80 692.80 704.80 716.80 728.80 740.80" font-size="24.0" stroke-width="0.12">=71.485</tspan></text>
<text class="m" y="145.00" text-anchor="middle"><tspan x="1098.50 1110.50" font-size="24.0" stroke-width="0.12">85</tspan></text>
<text class="m" y="250.00" text-anchor="middle"><tspan x="1098.50 1110.50" font-size="24.0" stroke-width="0.12">80</tspan></text>
<text class="m" y="355.00" text-anchor="middle"><tspan x="1098.50 1110.50" font-size="24.0" stroke-width="0.12">75</tspan></text>
<text class="m" y="460.00" text-anchor="middle"><tspan x="1098.50 1110.50" font-size="24.0" stroke-width="0.12">70</tspan></text>
<text class="m" y="565.00" text-anchor="middle"><tspan x="1098.50 1110.50" font-size="24.0" stroke-width="0.12">65</tspan></text>
<text class="m" y="670.00" text-anchor="middle"><tspan x="1098.50 1110.50" font-size="24.0" stroke-width="0.12">60</tspan></text>
<text class="m" y="775.00" text-anchor="middle"><tspan x="1098.50 1110.50" font-size="24.0" stroke-width="0.12">55</tspan></text>
<text class="m" y="899.30" text-anchor="middle"><tspan x="51.00" font-size="24.0" stroke-width="0.12">7</tspan></text>
<text class="m" y="899.30" text-anchor="middle"><tspan x="131.00" font-size="24.0" stroke-width="0.12">8</tspan></text>
<text class="m" y="899.30" text-anchor="middle"><tspan x="212.00" font-size="24.0" stroke-width="0.12">9</tspan></text>
<text class="m" y="899.30" text-anchor="middle"><tspan x="288.00 300.00" font-size="24.0" stroke-width="0.12">10</tspan></text>
<text class="m" y="899.30" text-anchor="middle"><tspan x="372.00 384.00" font-size="24.0" stroke-width="0.12">11</tspan></text>
<text class="m" y="899.30" text-anchor="middle"><tspan x="449.00 461.00" font-size="24.0" stroke-width="0.12">12</tspan></text>
<text class="m" y="899.30" text-anchor="middle"><tspan x="525.00 537.00 549.00 561.00" font-size="24.0" stroke-width="0.12">2025</tspan></text>
<text class="m" y="899.30" text-anchor="middle"><tspan x="605.00" font-size="24.0" stroke-width="0.12">2</tspan></text>
<text class="m" y="899.30" text-anchor="middle"><tspan x="678.00" font-size="24.0" stroke-width="0.12">3</tspan></text>
<text class="m" y="899.30" text-anchor="middle"><tspan x="755.00" font-size="24.0" stroke-width="0.12">4</tspan></text>
<text class="m" y="899.30" text-anchor="middle"><tspan x="831.00" font-size="24.0" stroke-width="0.12">5</tspan></text>
<text class="m" y="899.30" text-anchor="middle"><tspan x="911.00" font-size="24.0" stroke-width="0.12">6</tspan></text>
<text class="s" x="55.5" y="110.5" font-size="17.5" text-anchor="middle" stroke-width="0.2">7<tspan dx="3.0">/</tspan><tspan dx="3.0">5</tspan></text>
<text class="s" x="54.4" y="128.9" font-size="17.5" text-anchor="middle" stroke-width="0.2">84.52</text>
<text class="s" x="300.2" y="238.6" font-size="17.5" text-anchor="middle" stroke-width="0.2">10<tspan dx="3.0">/</tspan><tspan dx="3.0">8</tspan></text>
<text class="s" x="298.5" y="257.0" font-size="17.5" text-anchor="middle" stroke-width="0.2">78.46</text>
<text class="s" x="551.9" y="189.8" font-size="17.5" text-anchor="middle" stroke-width="0.2">1<tspan dx="3.0">/</tspan><tspan dx="3.0">15</tspan></text>
<text class="s" x="550.4" y="208.20000000000002" font-size="17.5" text-anchor="middle" stroke-width="0.2">80.77</text>
<text class="s" x="227.4" y="580.7" font-size="17.5" text-anchor="middle" stroke-width="0.2">9<tspan dx="3.0">/</tspan><tspan dx="3.0">10</tspan></text>
<text class="s" x="226.6" y="599.1" font-size="17.5" text-anchor="middle" stroke-width="0.2">65.27</text>
<text class="s" x="406.1" y="552.7" font-size="17.5" text-anchor="middle" stroke-width="0.2">11<tspan dx="3.0">/</tspan><tspan dx="3.0">18</tspan></text>
<text class="s" x="404.0" y="571.1" font-size="17.5" text-anchor="middle" stroke-width="0.2">66.61</text>
<text class="s" x="769.2" y="793.8" font-size="17.5" text-anchor="middle" stroke-width="0.2">4<tspan dx="3.0">/</tspan><tspan dx="3.0">9</tspan></text>
<text class="s" x="768.5" y="812.1999999999999" font-size="17.5" text-anchor="middle" stroke-width="0.2">55.12</text>
</g>
</svg>
</body>
</html>
